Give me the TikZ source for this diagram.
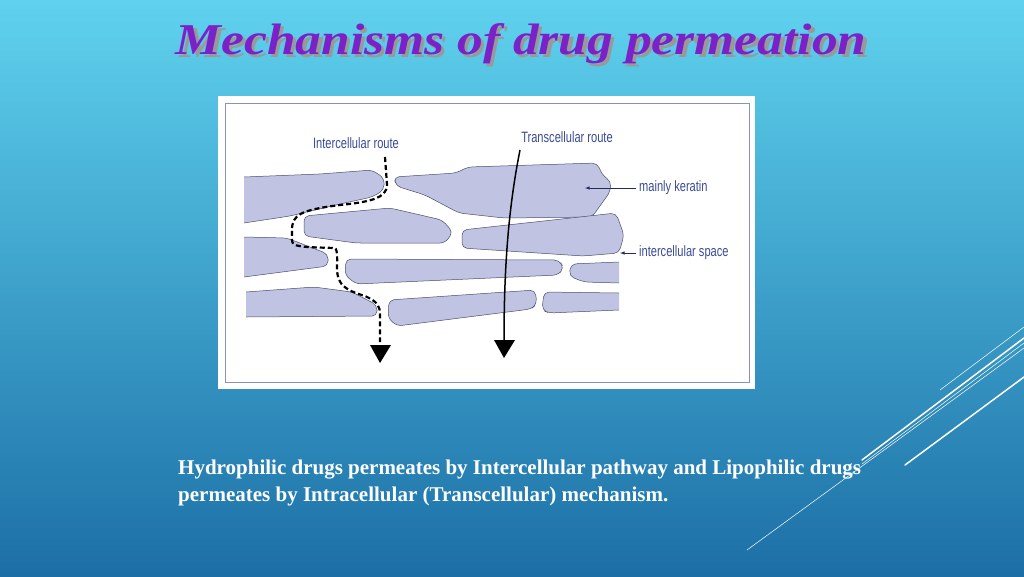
\documentclass[tikz,border=0pt]{standalone}
\usepackage{fontspec}
\setmainfont{Liberation Serif}
\newfontfamily\labelfont{Liberation Sans}
\usetikzlibrary{positioning}
\definecolor{skytop}{HTML}{5FD2EE}
\definecolor{skybot}{HTML}{1C6FA6}
\definecolor{cellfill}{HTML}{C0C4E2}
\definecolor{celledge}{HTML}{4A4E70}
\definecolor{labelblue}{HTML}{3B4B96}
\definecolor{titlepurple}{HTML}{7A22C8}
\begin{document}
\begin{tikzpicture}[x=1pt,y=-1pt,
    cell/.style={fill=cellfill, draw=celledge, line width=0.5pt, rounded corners=5pt},
    routelabel/.style={font=\labelfont\fontsize{15}{17}\selectfont, text=labelblue, xscale=0.74, inner sep=0pt},
    deco/.style={white, line cap=round}]

    % Background and frame
    \shade[top color=skytop, bottom color=skybot] (0,0) rectangle (1024,576);
    \useasboundingbox (0,0) rectangle (1024,576);
    \fill[white] (218,96) rectangle (755,389);
    \draw[labelblue!60, line width=0.8pt] (225,103) rectangle (749,382);

    % Title
    \node[font=\fontsize{44}{48}\selectfont\bfseries\itshape, text=titlepurple, xscale=1.17] (title) at (521,45)
        {\rlap{\hspace{3pt}\raisebox{-3pt}{\textcolor{black!40}{Mechanisms of drug permeation}}}Mechanisms of drug permeation};

    % Cells
    \draw[cell] (244,177) -- (320,174) -- (372,170) -- (384,178) -- (384,190) -- (372,197) -- (340,204) -- (290,216) -- (244,223);
    \draw[cell] (396,186) -- (394,177) -- (456,173) -- (468,167) -- (597,163) -- (603,176) -- (611,181) -- (610,192) -- (592,217) -- (504,218) -- (459,213) -- (425,195) -- cycle;
    \draw[cell] (304,236) -- (304,216) -- (390,208) -- (442,220) -- (453,232) -- (445,243) -- (356,243) -- cycle;
    \draw[cell] (462,248) -- (462,230) -- (616,213) -- (624,235) -- (619,253) -- (583,256) -- cycle;
    \draw[cell] (244,237) -- (287,238) -- (328,254) -- (328,266) -- (244,277);
    \draw[cell] (345,275) -- (346,259) -- (559,260) -- (564,268) -- (558,275) -- (356,284) -- cycle;
    \draw[cell] (619,262) -- (571,264) -- (569,276) -- (584,282) -- (619,283);
    \draw[cell] (246,292) -- (314,287) -- (352,292) -- (377,305) -- (377,316) -- (246,317);
    \draw[cell] (388,318) -- (389,300) -- (535,290) -- (537,304) -- (531,309) -- (397,326) -- cycle;
    \draw[cell] (619,293) -- (544,292) -- (542,310) -- (549,313) -- (619,310);

    % Intercellular route
    \node[routelabel] (interlabel) at (356,143) {Intercellular route};
    \draw[black, line width=2.2pt, dash pattern=on 5pt off 3pt]
        (385,157) -- (387,185) .. controls (387,198) and (370,202) .. (340,205)
        .. controls (300,210) and (292,215) .. (292,230) -- (292,240)
        .. controls (292,247) and (300,247) .. (335,248)
        .. controls (338,250) and (337,262) .. (337,270)
        .. controls (338,285) and (345,290) .. (365,296)
        .. controls (378,302) and (380,306) .. (380,315) -- (380,342);
    \fill[black] (370,345) -- (391,345) -- (380,363) -- cycle;

    % Transcellular route
    \node[routelabel] (translabel) at (567,137) {Transcellular route};
    \draw[black, line width=1.5pt] (520,150) .. controls (508,210) and (504,270) .. (504,342);
    \fill[black] (494,340) -- (515,340) -- (504,358) -- cycle;

    % Side labels
    \node[routelabel, anchor=west] (keratin) at (639,188) {mainly keratin};
    \coordinate (keratintip) at (585,188);
    \draw[-latex, labelblue!60!black, line width=0.6pt] (keratin.west) ++(-3,0) -- (keratintip);
    \node[routelabel, anchor=west] (space) at (639,253) {intercellular space};
    \coordinate (spacetip) at (620,253);
    \draw[-latex, labelblue!60!black, line width=0.6pt] (space.west) ++(-3,0) -- (spacetip);

    % Caption
    \node[anchor=north west, align=left, text=white, font=\fontsize{21}{27}\selectfont\bfseries, xscale=1.0, inner sep=0pt] (caption) at (178,460)
        {Hydrophilic drugs permeates by Intercellular pathway and Lipophilic drugs\\permeates by Intracellular (Transcellular) mechanism.};

    % Decorative lines
    \draw[deco, line width=0.5pt] (940,390) -- (1024,327);
    \draw[deco, line width=1.5pt] (862,460) -- (1024,338);
    \draw[deco, line width=0.5pt] (862,464) -- (1024,343);
    \draw[deco, line width=0.5pt] (747,550) -- (1024,348);
    \draw[deco, line width=1.5pt] (905,465) -- (1024,377);
\end{tikzpicture}
\end{document}
